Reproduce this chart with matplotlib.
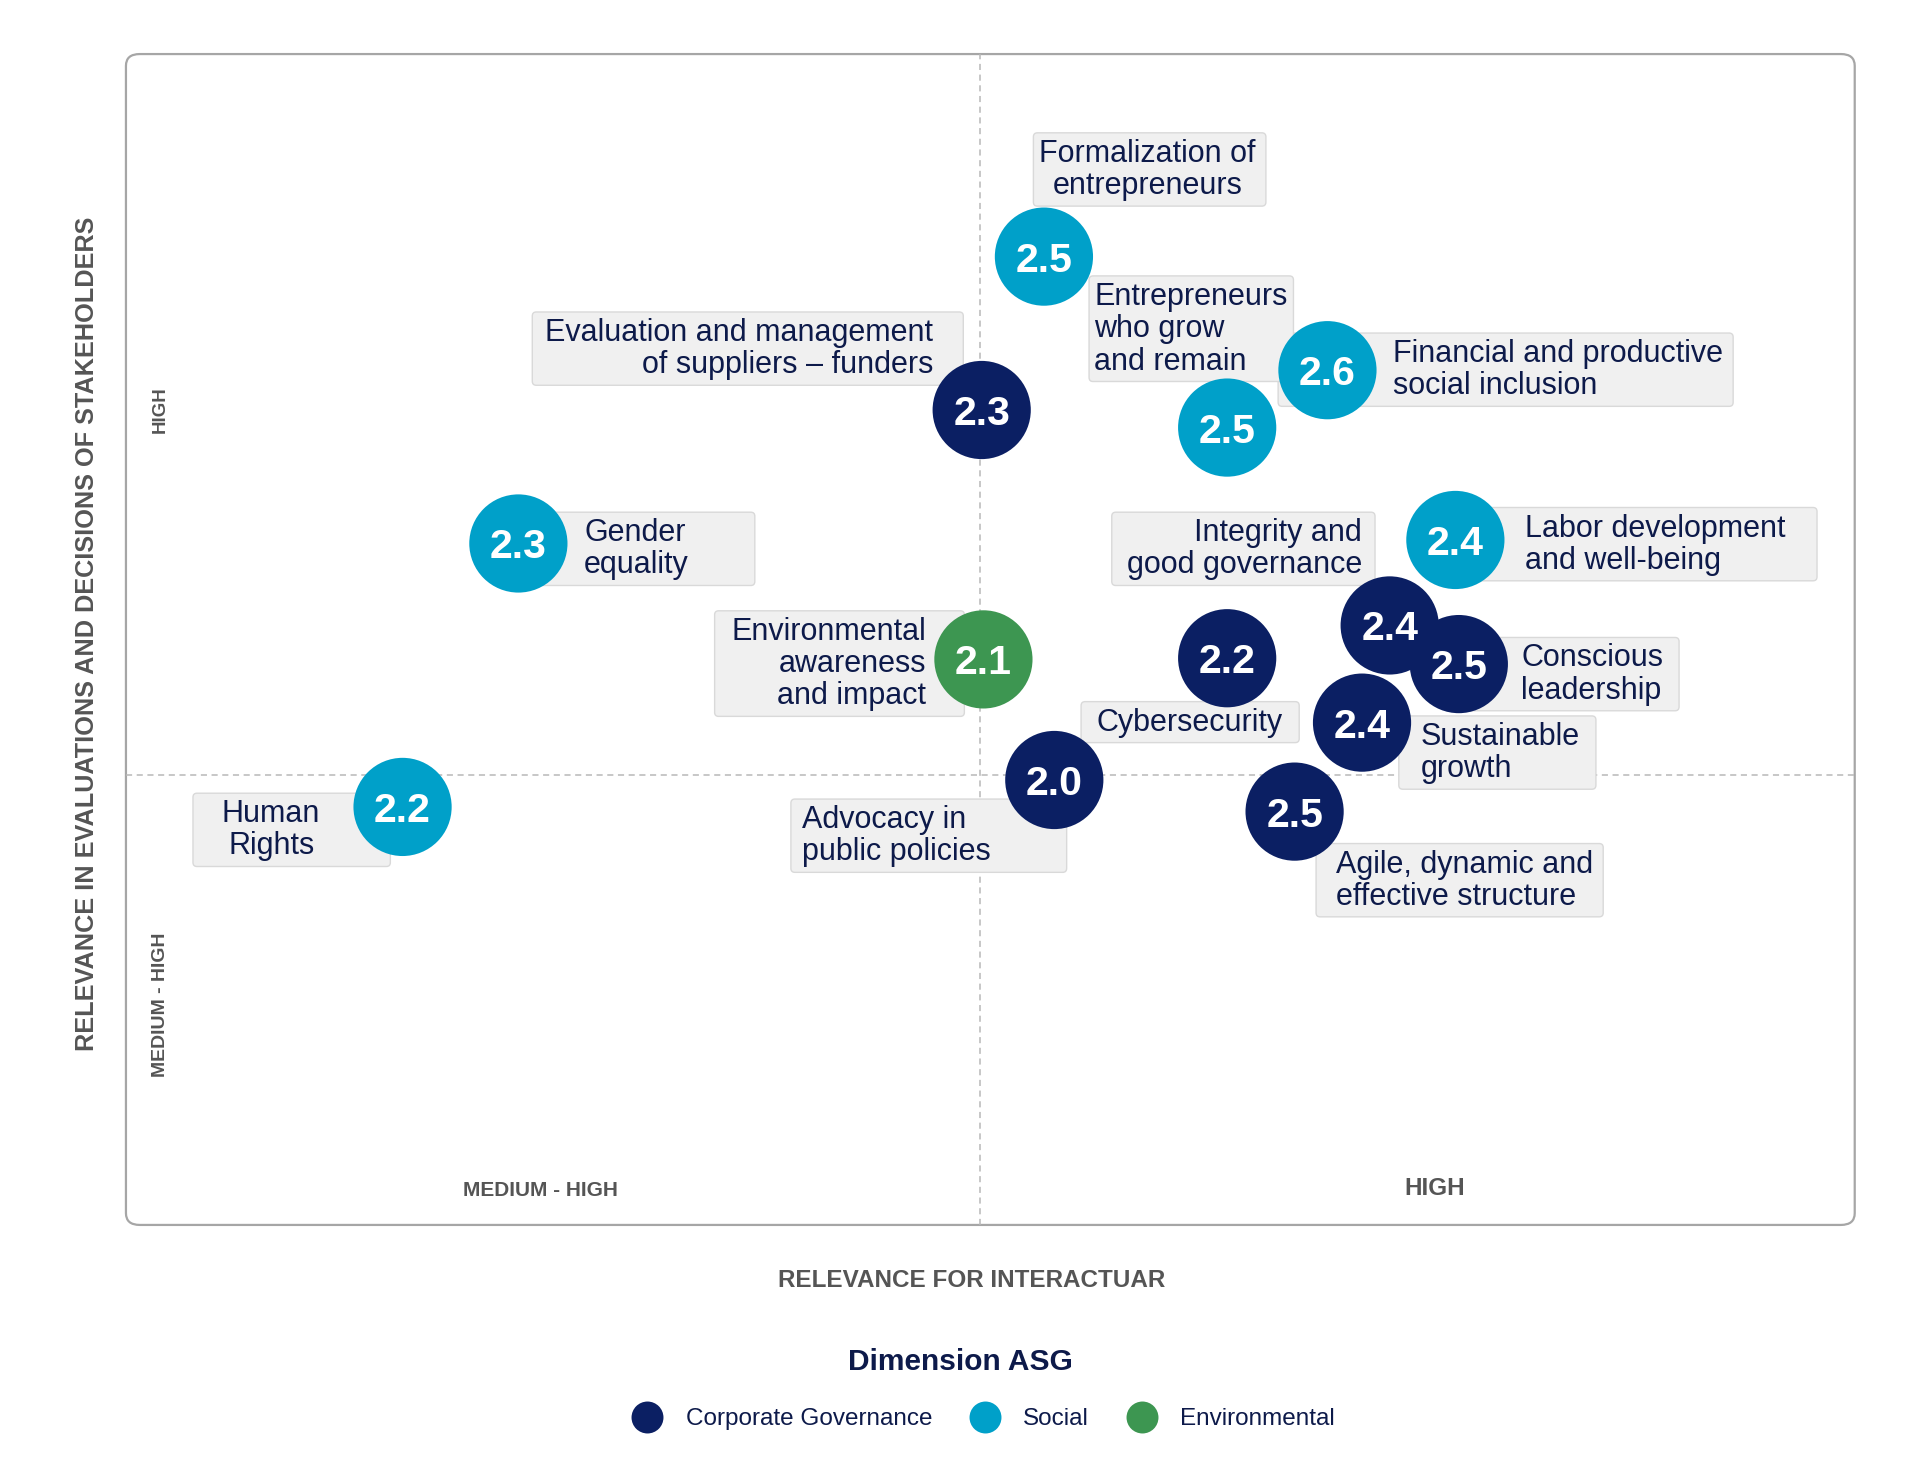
import matplotlib.pyplot as plt
from matplotlib.patches import FancyBboxPatch
from matplotlib.lines import Line2D
from matplotlib.transforms import IdentityTransform

plt.rcParams['font.family'] = ['Liberation Sans', 'DejaVu Sans']

# Datos: temas materiales, posición en la matriz (0-100) y calificación
topics = [
    "Formalization of\nentrepreneurs",
    "Evaluation and management\nof suppliers – funders",
    "Financial and productive\nsocial inclusion",
    "Entrepreneurs\nwho grow\nand remain",
    "Gender\nequality",
    "Labor development\nand well-being",
    "Integrity and\ngood governance",
    "Cybersecurity",
    "Conscious\nleadership",
    "Environmental\nawareness\nand impact",
    "Sustainable\ngrowth",
    "Advocacy in\npublic policies",
    "Agile, dynamic and\neffective structure",
    "Human\nRights",
]
dimension = ["S", "CG", "S", "S", "S", "S", "CG", "CG", "CG", "E", "CG", "CG", "CG", "S"]
score = [2.5, 2.3, 2.6, 2.5, 2.3, 2.4, 2.4, 2.2, 2.5, 2.1, 2.4, 2.0, 2.5, 2.2]
rel_interactuar = [53.1, 49.5, 69.5, 63.7, 22.7, 76.9, 73.1, 63.7, 77.1, 49.6, 71.5, 53.7, 67.6, 16.0]
rel_stakeholders = [82.7, 69.6, 73.0, 68.1, 58.2, 58.5, 51.2, 48.4, 47.9, 48.3, 42.9, 38.0, 35.3, 35.7]

# Ubicación de las etiquetas (x, y, alineación) y relleno de caja izq/der en px
label_pos = [
    (59.1, 90.1, 'center'), (46.7, 74.8, 'right'), (73.3, 73.0, 'left'),
    (56.0, 76.5, 'left'), (26.5, 57.7, 'left'), (80.9, 58.1, 'left'),
    (71.5, 57.7, 'right'), (61.5, 42.9, 'center'), (80.7, 47.0, 'left'),
    (46.3, 47.9, 'right'), (74.9, 40.3, 'left'), (39.1, 33.2, 'left'),
    (70.0, 29.4, 'left'), (8.4, 33.7, 'center'),
]
box_pad = [(6, 10), (13, 30), (115, 10), (5, 6), (45, 66), (92, 32), (15, 13),
           (15, 17), (77, 16), (17, 38), (22, 16), (11, 76), (20, 10), (29, 70)]

colors = {"CG": "#0b1f63", "S": "#00a0c9", "E": "#3d9651"}
names = {"CG": "Corporate Governance", "S": "Social", "E": "Environmental"}
text_col = "#0d1a4a"
grey = "#555555"

fig = plt.figure(figsize=(19.2, 14.81), dpi=100)
ax = fig.add_axes([0.0656, 0.1729, 0.9004, 0.7906])
ax.set_xlim(0, 100)
ax.set_ylim(0, 100)
ax.axis('off')

# Marco redondeado
frame = FancyBboxPatch((0, 0), 1, 1, boxstyle="round,pad=0,rounding_size=0.008",
                       transform=ax.transAxes, fc='none', ec='#a6a6a6', lw=1.6,
                       mutation_aspect=1.25, clip_on=False)
ax.add_patch(frame)

# Divisiones de cuadrantes
ax.axvline(49.4, color='#b8b8b8', lw=1.1, ls=(0, (4, 3)), zorder=1)
ax.axhline(38.4, color='#b8b8b8', lw=1.1, ls=(0, (4, 3)), zorder=1)

# Etiquetas
labels = []
for (lx, ly, ha), t in zip(label_pos, topics):
    labels.append(ax.text(lx, ly, t, ha=ha, va='center', multialignment=ha, fontsize=22,
                          color=text_col, linespacing=1.1, zorder=2.5))

# Cajas de las etiquetas
fig.canvas.draw()
renderer = fig.canvas.get_renderer()
for txt, (pl, pr) in zip(labels, box_pad):
    bb = txt.get_window_extent(renderer)
    box = FancyBboxPatch((bb.x0 - pl, bb.y0 - 5), bb.width + pl + pr, bb.height + 11,
                         boxstyle="round,pad=0,rounding_size=4", transform=IdentityTransform(),
                         fc='#f0f0f0', ec='#d9d9d9', lw=1.0, zorder=2, clip_on=False)
    ax.add_artist(box)

# Burbujas
for x, y, d, s in zip(rel_interactuar, rel_stakeholders, dimension, score):
    ax.scatter(x, y, s=5000, color=colors[d], edgecolor='none', zorder=3)
    ax.text(x, y, f"{s:.1f}", ha='center', va='center_baseline', color='white',
            fontsize=29.5, fontweight='bold', zorder=4)

# Etiquetas de cuadrantes
ax.text(2.0, 69.6, "HIGH", rotation=90, ha='center', va='center',
        fontsize=13.5, fontweight='bold', color=grey)
ax.text(2.0, 18.8, "MEDIUM - HIGH", rotation=90, ha='center', va='center',
        fontsize=14, fontweight='bold', color=grey)
ax.text(24.0, 2.9, "MEDIUM - HIGH", ha='center', va='center',
        fontsize=15, fontweight='bold', color=grey,
        family=['Liberation Sans Narrow', 'Liberation Sans'])
ax.text(75.7, 3.1, "HIGH", ha='center', va='center',
        fontsize=17.5, fontweight='bold', color=grey)

# Títulos de ejes
fig.text(0.506, 0.1357, "RELEVANCE FOR INTERACTUAR", ha='center', va='center',
         fontsize=17.5, fontweight='bold', color=grey)
fig.text(0.0455, 0.572, "RELEVANCE IN EVALUATIONS AND DECISIONS OF STAKEHOLDERS",
         rotation=90, ha='center', va='center', fontsize=18.2, fontweight='bold',
         color=grey)

# Leyenda
handles = [Line2D([], [], marker='o', ls='none', markersize=23,
                  markerfacecolor=colors[k], markeredgecolor='none', label=names[k])
           for k in ["CG", "S", "E"]]
fig.legend(handles=handles, loc='center', bbox_to_anchor=(0.512, 0.0418), ncol=3,
           frameon=False, fontsize=17.5, handlelength=1.35, handletextpad=0.9,
           columnspacing=1.5, labelcolor=text_col)
fig.text(0.5, 0.0805, "Dimension ASG", ha='center', va='center',
         fontsize=21.5, fontweight='bold', color=text_col)

fig.savefig("out.png", dpi=100, facecolor='white')
